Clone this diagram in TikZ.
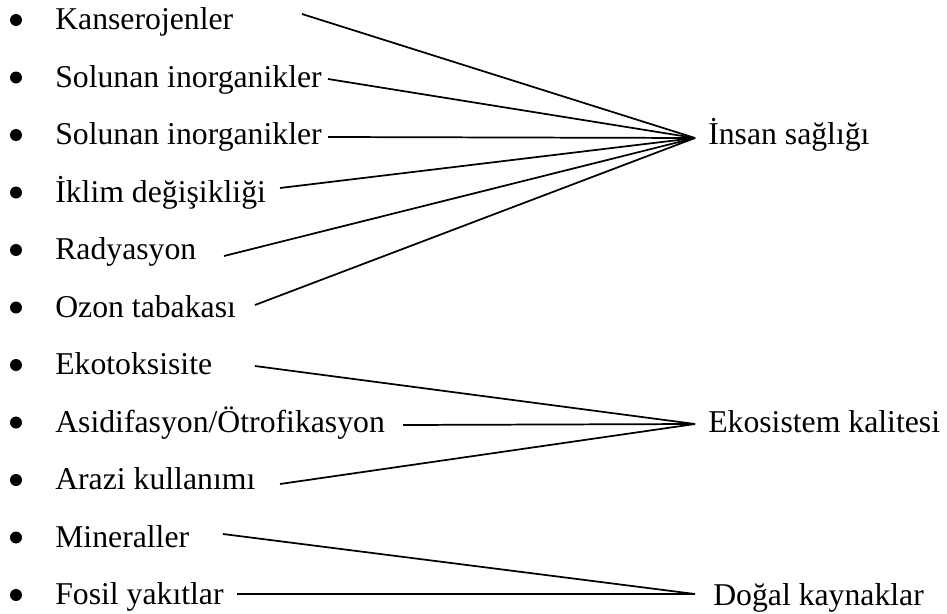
\documentclass[tikz,border=0pt]{standalone}
\usepackage{fontspec}
\setmainfont{Liberation Serif}
\begin{document}
\begin{tikzpicture}[x=0.75pt,y=-0.75pt,
  lbl/.style={anchor=base west,inner sep=0pt,font=\fontsize{23.8pt}{28pt}\selectfont},
  dot/.style={circle,fill=black,inner sep=0pt,minimum size=9pt},
  link/.style={line width=1.3pt,line join=miter}]
\useasboundingbox (0,0) rectangle (947,614);

% bulleted list on the left
\foreach \i/\t in {0/Kanserojenler,1/Solunan inorganikler,2/Solunan inorganikler,
  3/İklim değişikliği,4/Radyasyon,5/Ozon tabakası,6/Ekotoksisite,
  7/{Asidifasyon/Ötrofikasyon},8/Arazi kullanımı,9/Mineraller,10/Fosil yakıtlar}{
  \node[dot] (b\i) at (16,{20+57.5*\i}) {};
  \node[lbl] (t\i) at (55,{29.5+57.5*\i}) {\t};
}

% categories on the right
\node[lbl] (insan) at (708,144) {İnsan sağlığı};
\node[lbl] (eko) at (708,432) {Ekosistem kalitesi};
\node[lbl] (dogal) at (713,605) {Doğal kaynaklar};

% meeting points in front of each category
\coordinate (hI) at (695,138);
\coordinate (hE) at (695,424);
\coordinate (hD) at (695,594);

% connector start points after each list item
\coordinate (s0) at (302,14);
\coordinate (s1) at (328,79);
\coordinate (s2) at (328,137);
\coordinate (s3) at (280,188);
\coordinate (s4) at (224,256);
\coordinate (s5) at (255,305);
\coordinate (s6) at (255,366);
\coordinate (s7) at (403,425);
\coordinate (s8) at (280,484);
\coordinate (s9) at (223,534);
\coordinate (s10) at (237,594);

\foreach \i in {0,...,5}{\draw[link] (s\i) -- (hI);}
\foreach \i in {6,7,8}{\draw[link] (s\i) -- (hE);}
\foreach \i in {9,10}{\draw[link] (s\i) -- (hD);}
\end{tikzpicture}
\end{document}
